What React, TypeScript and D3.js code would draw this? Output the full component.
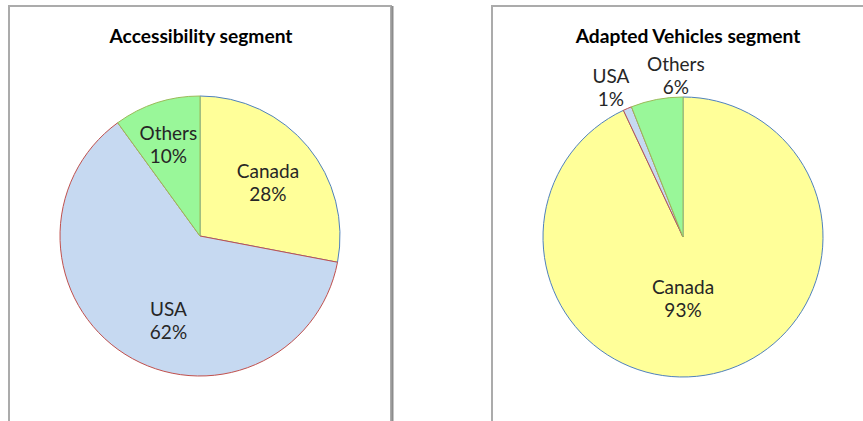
import React from "react";
import * as d3 from "d3";

const categories = ["Canada", "USA", "Others"];
const accessibilityValues = [28, 62, 10];
const vehiclesValues = [93, 1, 6];
const titles = ["Accessibility segment", "Adapted Vehicles segment"];

const fills = ["#FFFF99", "#C6D9F1", "#99F799"];
const strokes = ["#4F81BD", "#C0504D", "#9BBB59"];

const W = 863;
const H = 421;
const R = 140;

type PieProps = {
  title: string;
  values: number[];
  cx: number;
  cy: number;
  titleX: number;
  labelMode: "inside" | "mixed";
};

function Pie({ title, values, cx, cy, titleX, labelMode }: PieProps) {
  const data = categories.map((c, i) => ({ name: c, value: values[i], i }));
  const pie = d3.pie<any>().value((d) => d.value).sort(null);
  const arcs = pie(data);
  const arc = d3.arc<any>().innerRadius(0).outerRadius(R);
  const total = d3.sum(values);

  const labelPos = (a: any) => {
    const mid = (a.startAngle + a.endAngle) / 2;
    let r = R * 0.63;
    let ang = mid;
    if (labelMode === "mixed") {
      if (a.data.value / total < 0.1) {
        const isOthers = a.data.name === "Others";
        r = R * (isOthers ? 1.175 : 1.2);
        ang = mid - 0.035 + (isOthers ? 0.18 : 0.0);
      } else {
        r = R * 0.42;
        ang = Math.PI;
      }
    } else if (a.data.name === "USA") {
      ang = mid - 0.2;
    } else if (a.data.name === "Others") {
      r = R * 0.71;
      ang = mid - 0.01;
    }
    return [Math.sin(ang) * r, -Math.cos(ang) * r];
  };

  return (
    <g>
      <text
        x={titleX}
        y={42.5}
        textAnchor="middle"
        fontFamily="Lato, 'Open Sans', sans-serif"
        fontWeight="bold"
        fontSize={19.2}
        fill="#000"
      >
        {title}
      </text>
      <g transform={`translate(${cx},${cy})`}>
        {arcs.map((a) => (
          <path
            key={a.data.name}
            d={arc(a) as string}
            fill={fills[a.data.i]}
            stroke={strokes[a.data.i]}
            strokeWidth={1}
          />
        ))}
        {arcs.map((a) => {
          const [x, y] = labelPos(a);
          const pct = Math.round((a.data.value / total) * 100) + "%";
          return (
            <text
              key={"l" + a.data.name}
              x={x}
              y={y}
              textAnchor="middle"
              fontFamily="Lato, 'Open Sans', sans-serif"
              fontSize={19}
              fill="#262626"
            >
              <tspan x={x} dy="-0.1em">{a.data.name}</tspan>
              <tspan x={x} dy="1.2em">{pct}</tspan>
            </text>
          );
        })}
      </g>
    </g>
  );
}

export default function App() {
  return (
    <div style={{ position: "absolute", left: 0, top: 0 }}>
      <svg width={W} height={H} style={{ display: "block", background: "#fff" }}>
        <rect x={0} y={0} width={W} height={H} fill="#fff" />
        {/* left panel frame */}
        <path d="M9,430 V6 H391 V430" fill="none" stroke="#ABABAB" strokeWidth={2} />
        <line x1={392.5} y1={6} x2={392.5} y2={430} stroke="#8C8C8C" strokeWidth={2} />
        {/* right panel frame */}
        <path d="M492,430 V6 H870" fill="none" stroke="#ABABAB" strokeWidth={2} />
        <Pie
          title={titles[0]}
          values={accessibilityValues}
          cx={200}
          cy={236}
          titleX={201}
          labelMode="inside"
        />
        <Pie
          title={titles[1]}
          values={vehiclesValues}
          cx={683}
          cy={237}
          titleX={688}
          labelMode="mixed"
        />
      </svg>
    </div>
  );
}
